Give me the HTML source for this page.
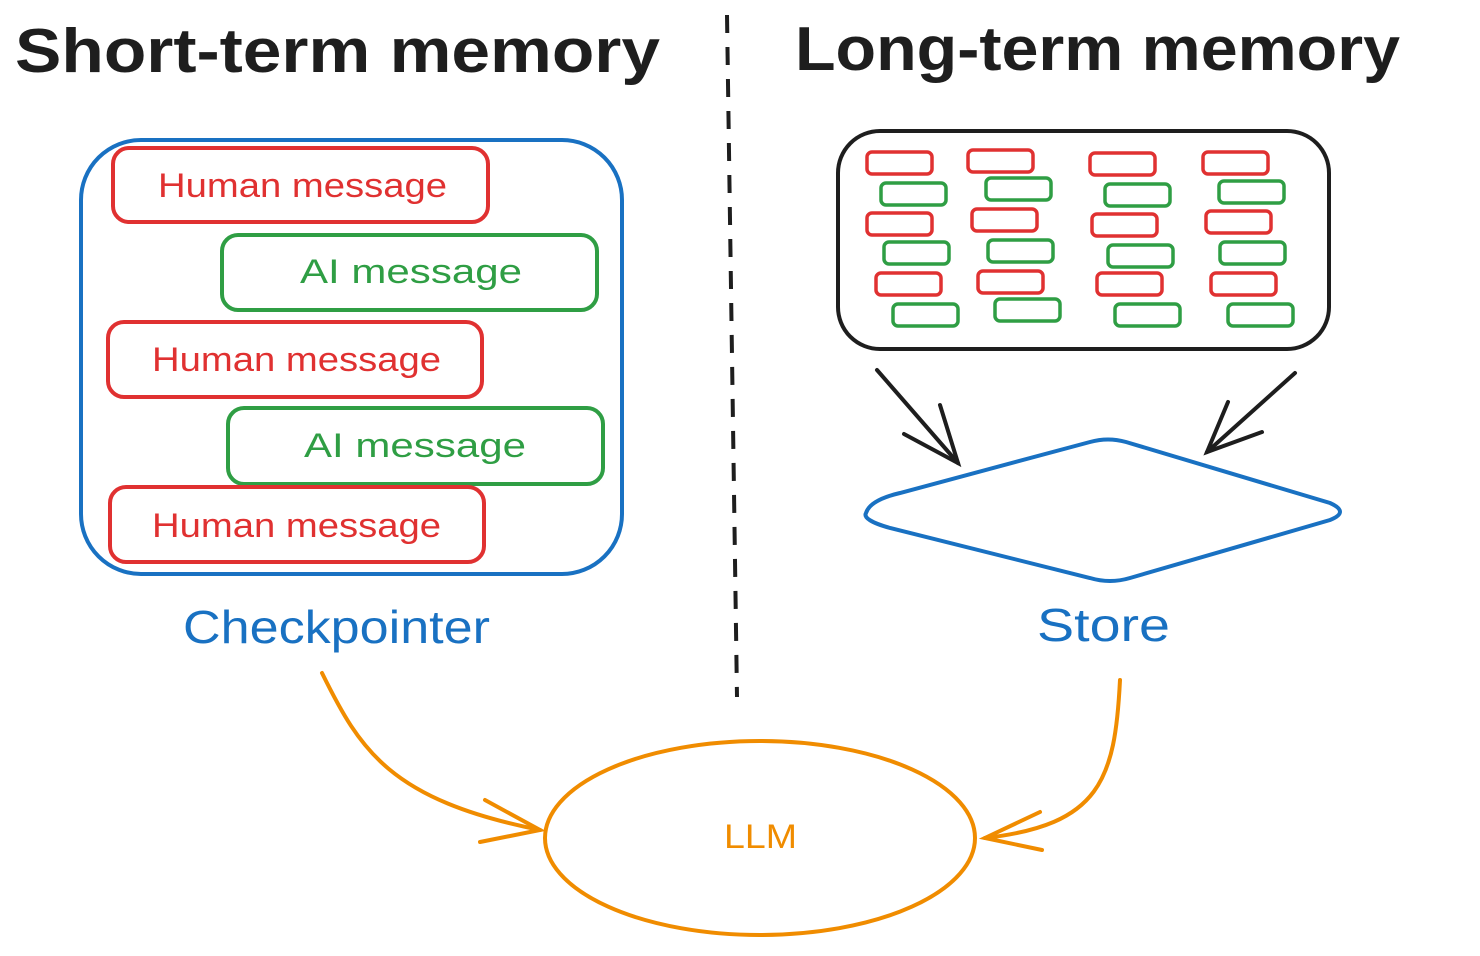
<!DOCTYPE html>
<html><head><meta charset="utf-8"><style>
html,body{margin:0;padding:0;background:#fff;}
svg{display:block}
text{font-family:"Liberation Sans",sans-serif}
</style></head><body>
<svg width="1480" height="956" viewBox="0 0 1480 956" xmlns="http://www.w3.org/2000/svg">
<text x="15" y="72" font-size="62" fill="#1e1e1e" font-weight="bold" textLength="645" lengthAdjust="spacingAndGlyphs">Short-term memory</text>
<text x="795" y="70" font-size="62" fill="#1e1e1e" font-weight="bold" textLength="605" lengthAdjust="spacingAndGlyphs">Long-term memory</text>
<line x1="727" y1="15" x2="737" y2="697" stroke="#1e1e1e" stroke-width="4" stroke-dasharray="18,14"/>

<rect x="81" y="140" width="541" height="434" rx="60" fill="none" stroke="#1971c2" stroke-width="4"/>
<g fill="none" stroke-width="4">
<rect x="113" y="148" width="375" height="74" rx="16" stroke="#e03131"/>
<rect x="222" y="235" width="375" height="75" rx="16" stroke="#2f9e44"/>
<rect x="108" y="322" width="374" height="75" rx="16" stroke="#e03131"/>
<rect x="228" y="408" width="375" height="76" rx="16" stroke="#2f9e44"/>
<rect x="110" y="487" width="374" height="75" rx="16" stroke="#e03131"/>
</g>
<g font-size="34">
<text x="158" y="197" fill="#e03131" textLength="289" lengthAdjust="spacingAndGlyphs">Human message</text>
<text x="300" y="283" fill="#2f9e44" textLength="222" lengthAdjust="spacingAndGlyphs">AI message</text>
<text x="152" y="371" fill="#e03131" textLength="289" lengthAdjust="spacingAndGlyphs">Human message</text>
<text x="304" y="457" fill="#2f9e44" textLength="222" lengthAdjust="spacingAndGlyphs">AI message</text>
<text x="152" y="537" fill="#e03131" textLength="289" lengthAdjust="spacingAndGlyphs">Human message</text>
</g>
<text x="183" y="643" font-size="46" fill="#1971c2" textLength="307" lengthAdjust="spacingAndGlyphs">Checkpointer</text>

<rect x="838" y="131" width="491" height="218" rx="42" fill="none" stroke="#1e1e1e" stroke-width="4"/>
<g fill="none" stroke-width="3.5">
<g stroke="#e03131">
<rect x="867" y="152" width="65" height="22" rx="5"/><rect x="968" y="150" width="65" height="22" rx="5"/><rect x="1090" y="153" width="65" height="22" rx="5"/><rect x="1203" y="152" width="65" height="22" rx="5"/>
<rect x="867" y="213" width="65" height="22" rx="5"/><rect x="972" y="209" width="65" height="22" rx="5"/><rect x="1092" y="214" width="65" height="22" rx="5"/><rect x="1206" y="211" width="65" height="22" rx="5"/>
<rect x="876" y="273" width="65" height="22" rx="5"/><rect x="978" y="271" width="65" height="22" rx="5"/><rect x="1097" y="273" width="65" height="22" rx="5"/><rect x="1211" y="273" width="65" height="22" rx="5"/>
</g>
<g stroke="#2f9e44">
<rect x="881" y="183" width="65" height="22" rx="5"/><rect x="986" y="178" width="65" height="22" rx="5"/><rect x="1105" y="184" width="65" height="22" rx="5"/><rect x="1219" y="181" width="65" height="22" rx="5"/>
<rect x="884" y="242" width="65" height="22" rx="5"/><rect x="988" y="240" width="65" height="22" rx="5"/><rect x="1108" y="245" width="65" height="22" rx="5"/><rect x="1220" y="242" width="65" height="22" rx="5"/>
<rect x="893" y="304" width="65" height="22" rx="5"/><rect x="995" y="299" width="65" height="22" rx="5"/><rect x="1115" y="304" width="65" height="22" rx="5"/><rect x="1228" y="304" width="65" height="22" rx="5"/>
</g>
</g>

<g stroke="#1e1e1e" stroke-width="4" fill="none" stroke-linecap="round">
<path d="M877 370 L958 463"/><path d="M904 434 L958 463 L940 405"/>
<path d="M1295 373 L1207 452"/><path d="M1228 402 L1207 452 L1262 432"/>
</g>
<path d="M866 513 Q870 500 900 493 L1090 442 Q1108 437 1126 442 L1330 503 Q1350 512 1330 520 L1130 578 Q1110 584 1090 578 L890 528 Q862 520 866 513 Z" fill="none" stroke="#1971c2" stroke-width="4"/>
<text x="1037" y="641" font-size="46" fill="#1971c2" textLength="133" lengthAdjust="spacingAndGlyphs">Store</text>

<ellipse cx="760" cy="838" rx="215" ry="97" fill="none" stroke="#f08c00" stroke-width="4"/>
<text x="724" y="848" font-size="34" fill="#f08c00" textLength="73" lengthAdjust="spacingAndGlyphs">LLM</text>
<g stroke="#f08c00" stroke-width="4" fill="none" stroke-linecap="round">
<path d="M322 673 C360 750 390 800 540 830"/><path d="M485 800 L540 830 L480 842"/>
<path d="M1120 680 C1115 780 1100 825 985 838"/><path d="M1040 812 L985 838 L1042 850"/>
</g>
</svg>
</body></html>
